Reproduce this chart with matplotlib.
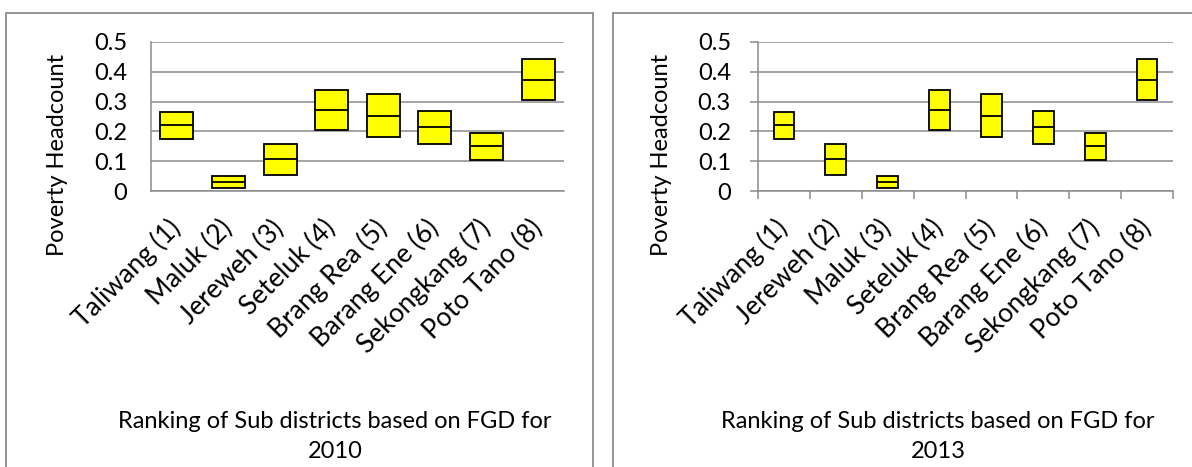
"""
plot.py
=======
Poverty headcount ranges of sub districts, ranked by FGD for 2010 and 2013.
"""

import matplotlib
matplotlib.use("Agg")
import matplotlib.pyplot as plt
import numpy as np
from matplotlib.patches import Rectangle

# ---------------------------------------------------------------------------
# Data
# ---------------------------------------------------------------------------

districts_2010 = ["Taliwang (1)", "Maluk (2)", "Jereweh (3)", "Seteluk (4)",
                  "Brang Rea (5)", "Barang Ene (6)", "Sekongkang (7)", "Poto Tano (8)"]
high_2010 = [0.266, 0.051, 0.157, 0.339, 0.325, 0.269, 0.196, 0.444]
mid_2010 = [0.220, 0.030, 0.106, 0.272, 0.252, 0.214, 0.151, 0.374]
low_2010 = [0.173, 0.011, 0.055, 0.205, 0.181, 0.159, 0.105, 0.304]

districts_2013 = ["Taliwang (1)", "Jereweh (2)", "Maluk (3)", "Seteluk (4)",
                  "Brang Rea (5)", "Barang Ene (6)", "Sekongkang (7)", "Poto Tano (8)"]
high_2013 = [0.266, 0.157, 0.051, 0.339, 0.325, 0.269, 0.196, 0.444]
mid_2013 = [0.220, 0.106, 0.030, 0.272, 0.252, 0.214, 0.151, 0.374]
low_2013 = [0.173, 0.055, 0.011, 0.205, 0.181, 0.159, 0.105, 0.304]

y_ticks = [0, 0.1, 0.2, 0.3, 0.4, 0.5]
y_tick_labels = ["0", "0.1", "0.2", "0.3", "0.4", "0.5"]

# ---------------------------------------------------------------------------
# Style
# ---------------------------------------------------------------------------

W, H = 1192, 467
GRAY = "#8c8c8c"
FONT = 17
XFONT = 19

plt.rcParams["font.family"] = ["Lato", "DejaVu Sans"]


def px_box(x0, y0, x1, y1):
    """Pixel box (top-left origin) -> figure fraction [l, b, w, h]."""
    return [x0 / W, 1 - y1 / H, (x1 - x0) / W, (y1 - y0) / H]


def draw_panel(fig, rect, names, high, mid, low, box_width, outer_ticks,
               title_x, year):
    ax = fig.add_axes(px_box(*rect))
    x = np.arange(len(names))
    high = np.array(high)
    low = np.array(low)

    ax.bar(x, high - low, bottom=low, width=box_width, color="#ffff00",
           edgecolor="black", linewidth=1.3, zorder=3)
    ax.hlines(mid, x - box_width / 2, x + box_width / 2, color="black",
              linewidth=1.3, zorder=4)

    ax.set_xlim(-0.5, len(names) - 0.5)
    ax.set_ylim(0, 0.5)
    ax.set_yticks(y_ticks)
    ax.set_yticklabels(y_tick_labels, fontsize=FONT)
    ax.yaxis.grid(True, color=GRAY, linewidth=1.1, zorder=0)
    ax.set_axisbelow(True)

    ax.set_xticks(x)
    ax.set_xticklabels(names, fontsize=XFONT, rotation=45, ha="right",
                       va="center", rotation_mode="anchor")

    for side in ("top", "right"):
        ax.spines[side].set_visible(False)
    for side in ("left", "bottom"):
        ax.spines[side].set_color(GRAY)
        ax.spines[side].set_linewidth(1.1)

    if outer_ticks:
        ax.set_xticks(np.arange(len(names) + 1) - 0.5, minor=True)
        ax.tick_params(axis="x", which="major", length=0, pad=24)
        ax.tick_params(axis="x", which="minor", length=5.5, width=1.1,
                       color=GRAY, direction="out")
        ax.tick_params(axis="y", length=5.5, width=1.1, color=GRAY, pad=14)
    else:
        ax.tick_params(axis="x", length=0, pad=24)
        ax.tick_params(axis="y", length=0, pad=17)

    fig.text(title_x / W, 1 - 421 / H, "Ranking of Sub districts based on FGD for",
             ha="center", va="center", fontsize=FONT)
    fig.text(title_x / W, 1 - 452 / H, year, ha="center", va="center",
             fontsize=FONT)
    return ax


fig = plt.figure(figsize=(W / 100, H / 100), dpi=100)

# outer chart borders (cut off by the image edges)
fig.patches.append(Rectangle((6 / W, -0.1), 587 / W, 1.1 - 13 / H,
                             transform=fig.transFigure, fill=False,
                             edgecolor=GRAY, linewidth=1.3))
fig.patches.append(Rectangle((613 / W, -0.1), 0.6, 1.1 - 13 / H,
                             transform=fig.transFigure, fill=False,
                             edgecolor=GRAY, linewidth=1.3))

draw_panel(fig, (151, 42, 564, 191), districts_2010, high_2010, mid_2010,
           low_2010, 0.64, False, 335, "2010")
draw_panel(fig, (758, 42, 1173, 191), districts_2013, high_2013, mid_2013,
           low_2013, 0.40, True, 938, "2013")

for xc in (58, 662):
    fig.text(xc / W, 1 - 155 / H, "Poverty Headcount", rotation=90,
             ha="center", va="center", fontsize=FONT)

fig.savefig("out.png", dpi=100)
